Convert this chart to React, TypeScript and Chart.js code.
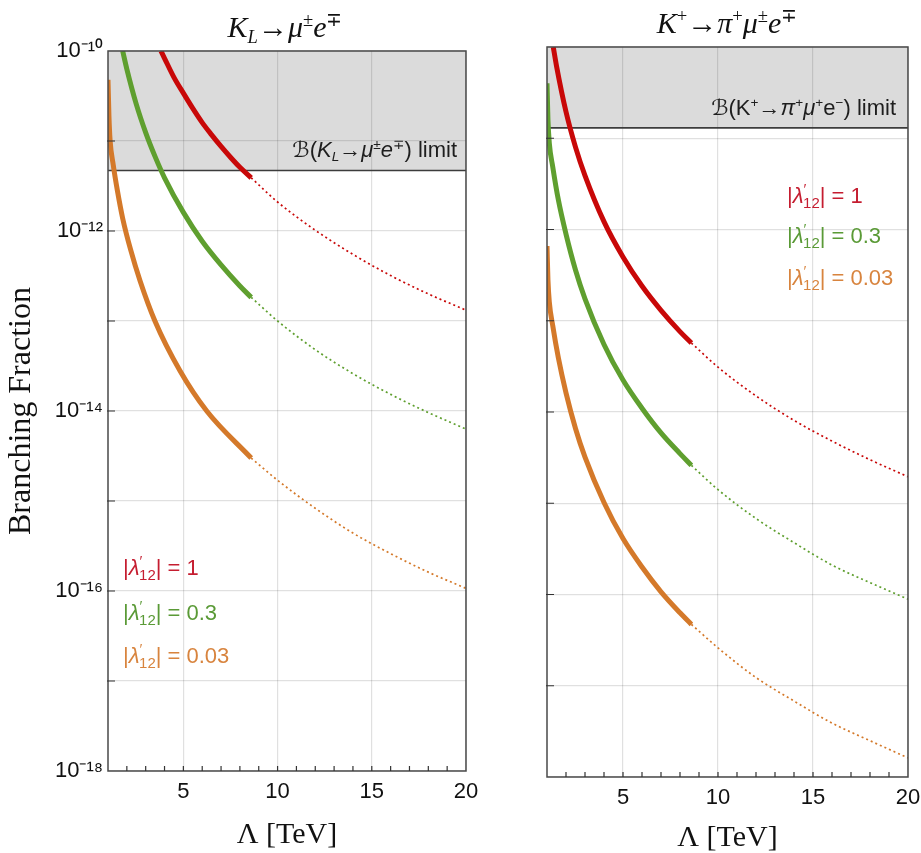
import React, { useEffect, useRef } from 'react';
import { Chart, registerables } from 'chart.js';
Chart.register(...registerables);

// ---------- data (Λ in TeV, branching fractions) ----------
const lamDotted = [8.6, 10, 12, 14, 16, 18, 20];

// Left panel: K_L → μ± e∓
const klRedLam = [3.81, 4, 4.5, 5, 5.5, 6, 6.5, 7, 7.5, 8, 8.6];
const klRedBr = [1.0e-10, 8.3e-11, 5.1e-11, 3.4e-11, 2.3e-11, 1.6e-11, 1.17e-11, 8.7e-12, 6.6e-12, 5.1e-12, 3.9e-12];
const klRedDotted = [3.9e-12, 2.1e-12, 1.02e-12, 5.5e-13, 3.2e-13, 2.0e-13, 1.32e-13];

const klGreenLam = [1.78, 2, 2.5, 3, 3.5, 4, 5, 6, 7, 8, 8.6];
const klGreenBr = [1.0e-10, 6.3e-11, 2.57e-11, 1.24e-11, 6.7e-12, 3.9e-12, 1.61e-12, 7.7e-13, 4.2e-13, 2.45e-13, 1.83e-13];
const klGreenDotted = [1.83e-13, 1.0e-13, 4.8e-14, 2.6e-14, 1.53e-14, 9.6e-15, 6.3e-15];

const klOrangeLam = [1.0, 1.05, 1.11, 1.28, 1.5, 1.78, 2.2, 2.7, 3.49, 4.82, 6.24, 8.6];
const klOrangeBr = [4.8e-11, 1.9e-11, 1.02e-11, 5.4e-12, 2.8e-12, 1.38e-12, 6.2e-13, 2.8e-13, 1.0e-13, 2.8e-14, 1.0e-14, 3.0e-15];
const klOrangeDotted = [3.0e-15, 1.7e-15, 8.3e-16, 4.4e-16, 2.6e-16, 1.62e-16, 1.07e-16];

// Right panel: K+ → π+ μ± e∓
const kpRedLam = [1.33, 1.5, 2, 2.5, 3, 4, 5, 6, 7, 8, 8.6];
const kpRedBr = [1.0e-10, 6.2e-11, 1.95e-11, 8.0e-12, 3.9e-12, 1.22e-12, 5.0e-13, 2.4e-13, 1.3e-13, 7.6e-14, 5.7e-14];
const kpRedDotted = [5.7e-14, 3.1e-14, 1.5e-14, 8.1e-15, 4.8e-15, 3.0e-15, 1.95e-15];

const kpGreenLam = [1.0, 1.05, 1.12, 1.3, 1.6, 2, 2.5, 3, 4, 5, 6, 7, 8, 8.6];
const kpGreenBr = [4.0e-11, 1.6e-11, 8.9e-12, 4.9e-12, 2.1e-12, 8.9e-13, 3.6e-13, 1.74e-13, 5.5e-14, 2.24e-14, 1.1e-14, 5.9e-15, 3.5e-15, 2.6e-15];
const kpGreenDotted = [2.6e-15, 1.41e-15, 6.8e-16, 3.7e-16, 2.1e-16, 1.35e-16, 8.9e-17];

const kpOrangeLam = [1.0, 1.05, 1.12, 1.3, 1.6, 2, 2.5, 3, 4, 5, 6, 7, 8, 8.6];
const kpOrangeBr = [6.6e-13, 2.8e-13, 1.62e-13, 8.9e-14, 3.9e-14, 1.62e-14, 6.6e-15, 3.2e-15, 1.02e-15, 4.1e-16, 2.0e-16, 1.07e-16, 6.3e-17, 4.7e-17];
const kpOrangeDotted = [4.7e-17, 2.6e-17, 1.23e-17, 6.8e-18, 3.9e-18, 2.5e-18, 1.62e-18];

const klLimit = 4.7e-12;
const kpLimit = 1.3e-11;

const xTickValues = [5, 10, 15, 20];
const xMinorTicks = [2, 3, 4, 5, 6, 7, 8, 9, 10, 11, 12, 13, 14, 15, 16, 17, 18, 19];
const yDecades = [-18, -17, -16, -15, -14, -13, -12, -11, -10];
const yLabeledDecades = [-18, -16, -14, -12, -10];

// ---------- styles ----------
const RED = '#c80808';
const GREEN = '#5f9f2f';
const ORANGE = '#d4792a';
const RED_TXT = '#c51d30';
const GREEN_TXT = '#5a9a36';
const ORANGE_TXT = '#d8843e';
const SANS = "'Liberation Sans', Arial, sans-serif";
const SERIF = "'Liberation Serif', 'Times New Roman', serif";

const supMap: Record<string, string> = {
  '0': '⁰', '1': '¹', '2': '²', '3': '³', '4': '⁴', '5': '⁵', '6': '⁶', '7': '⁷', '8': '⁸', '9': '⁹', '-': '⁻',
};
const yLabel = (v: number) => {
  const e = Math.round(Math.log10(v));
  if (!yLabeledDecades.includes(e)) return '';
  return '10' + String(e).split('').map((c) => supMap[c]).join('');
};

type Series = { lam: number[]; br: number[]; dotted: number[]; color: string };

const framePlugin = {
  id: 'frameTicks',
  afterDatasetsDraw(chart: any) {
    const { ctx, chartArea: a, scales } = chart;
    ctx.save();
    ctx.strokeStyle = '#4a4a4a';
    ctx.lineWidth = 1.5;
    ctx.strokeRect(a.left, a.top, a.right - a.left, a.bottom - a.top);
    ctx.strokeStyle = '#333';
    ctx.lineWidth = 1.2;
    ctx.beginPath();
    for (const v of xMinorTicks) {
      const px = scales.x.getPixelForValue(v);
      ctx.moveTo(px, a.bottom);
      ctx.lineTo(px, a.bottom - 5);
    }
    for (const e of yDecades) {
      if (e === -18 || e === -10) continue;
      const py = scales.y.getPixelForValue(Math.pow(10, e));
      ctx.moveTo(a.left - 1, py);
      ctx.lineTo(a.left + 7, py);
    }
    ctx.stroke();
    ctx.restore();
  },
};

type PanelProps = {
  left: number;
  width: number;
  area: { left: number; right: number; top: number; bottom: number };
  series: Series[];
  limit: number;
  showYLabels: boolean;
  xTitlePad: number;
};

function Panel(p: PanelProps) {
  const ref = useRef<HTMLCanvasElement>(null);
  useEffect(() => {
    const datasets: any[] = [];
    p.series.forEach((s) => {
      datasets.push({
        data: s.lam.map((x, i) => ({ x, y: s.br[i] })),
        borderColor: s.color,
        borderWidth: 5,
        pointRadius: 0,
        cubicInterpolationMode: 'monotone',
        fill: false,
        borderCapStyle: 'butt',
      });
      datasets.push({
        data: lamDotted.map((x, i) => ({ x, y: s.dotted[i] })),
        borderColor: s.color,
        borderWidth: 1.7,
        borderDash: [2, 3],
        pointRadius: 0,
        cubicInterpolationMode: 'monotone',
        fill: false,
      });
    });
    datasets.push({
      data: [
        { x: 1, y: p.limit },
        { x: 20, y: p.limit },
      ],
      borderColor: '#3c3c3c',
      borderWidth: 1.6,
      pointRadius: 0,
      fill: 'end',
      backgroundColor: 'rgba(0,0,0,0.14)',
    });
    const gridColor = 'rgba(0,0,0,0.12)';
    const chart = new Chart(ref.current!, {
      type: 'line',
      data: { datasets },
      plugins: [framePlugin],
      options: {
        animation: false,
        responsive: false,
        devicePixelRatio: 1,
        layout: { padding: { left: 0, top: p.area.top, right: p.width - p.area.right, bottom: 0 } },
        plugins: { legend: { display: false }, tooltip: { enabled: false } },
        scales: {
          x: {
            type: 'linear',
            min: 1,
            max: 20,
            afterBuildTicks: (s: any) => {
              s.ticks = xTickValues.map((v) => ({ value: v }));
            },
            afterFit: (s: any) => {
              s.height = 853 - p.area.bottom;
              s.paddingLeft = 0;
              s.paddingRight = 0;
            },
            grid: { color: gridColor, lineWidth: 1.2, drawTicks: false },
            border: { display: false },
            ticks: {
              font: { family: SANS, size: 22 },
              color: '#111',
              padding: 8,
              maxRotation: 0,
              autoSkip: false,
              callback: (v: any) => String(v),
            },
            title: {
              display: true,
              text: 'Λ [TeV]',
              color: '#111',
              font: { family: SERIF, size: 30, lineHeight: 1.0 },
              padding: { top: 0, bottom: p.xTitlePad },
            },
          },
          y: {
            type: 'logarithmic',
            min: 1e-18,
            max: 1e-10,
            afterBuildTicks: (s: any) => {
              s.ticks = yDecades.map((e) => ({ value: Math.pow(10, e) }));
            },
            afterFit: (s: any) => {
              s.width = p.area.left;
              s.paddingTop = 0;
              s.paddingBottom = 0;
            },
            grid: { color: gridColor, lineWidth: 1.2, drawTicks: false },
            border: { display: false },
            ticks: {
              display: p.showYLabels,
              font: { family: SANS, size: 22 },
              color: '#111',
              padding: 5,
              autoSkip: false,
              callback: (v: any) => yLabel(Number(v)),
            },
            title: {
              display: p.showYLabels,
              text: 'Branching Fraction',
              color: '#111',
              font: { family: SERIF, size: 32, lineHeight: 1.0 },
              padding: { top: 6, bottom: 0 },
            },
          },
        },
      } as any,
    });
    return () => chart.destroy();
  }, []);
  return (
    <canvas
      ref={ref}
      width={p.width}
      height={853}
      style={{ position: 'absolute', left: p.left, top: 0, width: p.width, height: 853 }}
    />
  );
}

const Sup = ({ children }: { children: any }) => (
  <span style={{ fontSize: '0.62em', position: 'relative', top: '-0.6em' }}>{children}</span>
);
const Sub = ({ children }: { children: any }) => (
  <span style={{ fontSize: '0.62em', position: 'relative', top: '0.3em' }}>{children}</span>
);
const I = ({ children }: { children: any }) => <span style={{ fontStyle: 'italic' }}>{children}</span>;

function Coupling({ value, color, left, top }: { value: string; color: string; left: number; top: number }) {
  return (
    <div
      style={{
        position: 'absolute',
        left,
        top,
        color,
        fontFamily: SANS,
        fontSize: 22,
        lineHeight: '24px',
        whiteSpace: 'nowrap',
      }}
    >
      |<I>λ</I>
      <span style={{ fontSize: '0.68em', position: 'relative', top: '-0.62em' }}>′</span>
      <span style={{ fontSize: '0.68em', position: 'relative', top: '0.32em', marginLeft: '-0.22em' }}>12</span>| = {value}
    </div>
  );
}

export default function App() {
  const leftSeries: Series[] = [
    { lam: klRedLam, br: klRedBr, dotted: klRedDotted, color: RED },
    { lam: klGreenLam, br: klGreenBr, dotted: klGreenDotted, color: GREEN },
    { lam: klOrangeLam, br: klOrangeBr, dotted: klOrangeDotted, color: ORANGE },
  ];
  const rightSeries: Series[] = [
    { lam: kpRedLam, br: kpRedBr, dotted: kpRedDotted, color: RED },
    { lam: kpGreenLam, br: kpGreenBr, dotted: kpGreenDotted, color: GREEN },
    { lam: kpOrangeLam, br: kpOrangeBr, dotted: kpOrangeDotted, color: ORANGE },
  ];
  const titleStyle: React.CSSProperties = {
    position: 'absolute',
    fontFamily: SERIF,
    fontSize: 30,
    lineHeight: '34px',
    whiteSpace: 'nowrap',
    color: '#111',
    transform: 'translateX(-50%)',
  };
  const limitStyle: React.CSSProperties = {
    position: 'absolute',
    fontFamily: "'Liberation Sans', 'DejaVu Sans', Arial, sans-serif",
    fontSize: 22,
    lineHeight: '24px',
    whiteSpace: 'nowrap',
    color: '#1e1e1e',
    transform: 'translateX(-100%)',
  };
  return (
    <div
      style={{
        position: 'absolute',
        left: 0,
        top: 0,
        width: 921,
        height: 853,
        overflow: 'hidden',
        background: '#fff',
      }}
    >
      <Panel
        left={0}
        width={480}
        area={{ left: 108, right: 466, top: 51, bottom: 771 }}
        series={leftSeries}
        limit={klLimit}
        showYLabels={true}
        xTitlePad={3}
      />
      <Panel
        left={480}
        width={441}
        area={{ left: 67, right: 428, top: 47, bottom: 777 }}
        series={rightSeries}
        limit={kpLimit}
        showYLabels={false}
        xTitlePad={0}
      />

      <div style={{ ...titleStyle, left: 285, top: 10 }}>
        <I>K</I>
        <Sub>
          <I>L</I>
        </Sub>
        →<I>μ</I>
        <Sup>±</Sup>
        <I>e</I>
        <Sup>∓</Sup>
      </div>
      <div style={{ ...titleStyle, left: 727, top: 6 }}>
        <I>K</I>
        <Sup>+</Sup>→<I>π</I>
        <Sup>+</Sup>
        <I>μ</I>
        <Sup>±</Sup>
        <I>e</I>
        <Sup>∓</Sup>
      </div>

      <div style={{ ...limitStyle, left: 457, top: 138 }}>
        ℬ(<I>K</I>
        <Sub>
          <I>L</I>
        </Sub>
        →<I>μ</I>
        <Sup>±</Sup>
        <I>e</I>
        <Sup>∓</Sup>) limit
      </div>
      <div style={{ ...limitStyle, left: 896, top: 96 }}>
        ℬ(K<Sup>+</Sup>→<I>π</I>
        <Sup>+</Sup>
        <I>μ</I>
        <Sup>+</Sup>e<Sup>−</Sup>) limit
      </div>

      <Coupling value="1" color={RED_TXT} left={123} top={556} />
      <Coupling value="0.3" color={GREEN_TXT} left={123} top={601} />
      <Coupling value="0.03" color={ORANGE_TXT} left={123} top={644} />

      <Coupling value="1" color={RED_TXT} left={787} top={184} />
      <Coupling value="0.3" color={GREEN_TXT} left={787} top={224} />
      <Coupling value="0.03" color={ORANGE_TXT} left={787} top={266} />
    </div>
  );
}
